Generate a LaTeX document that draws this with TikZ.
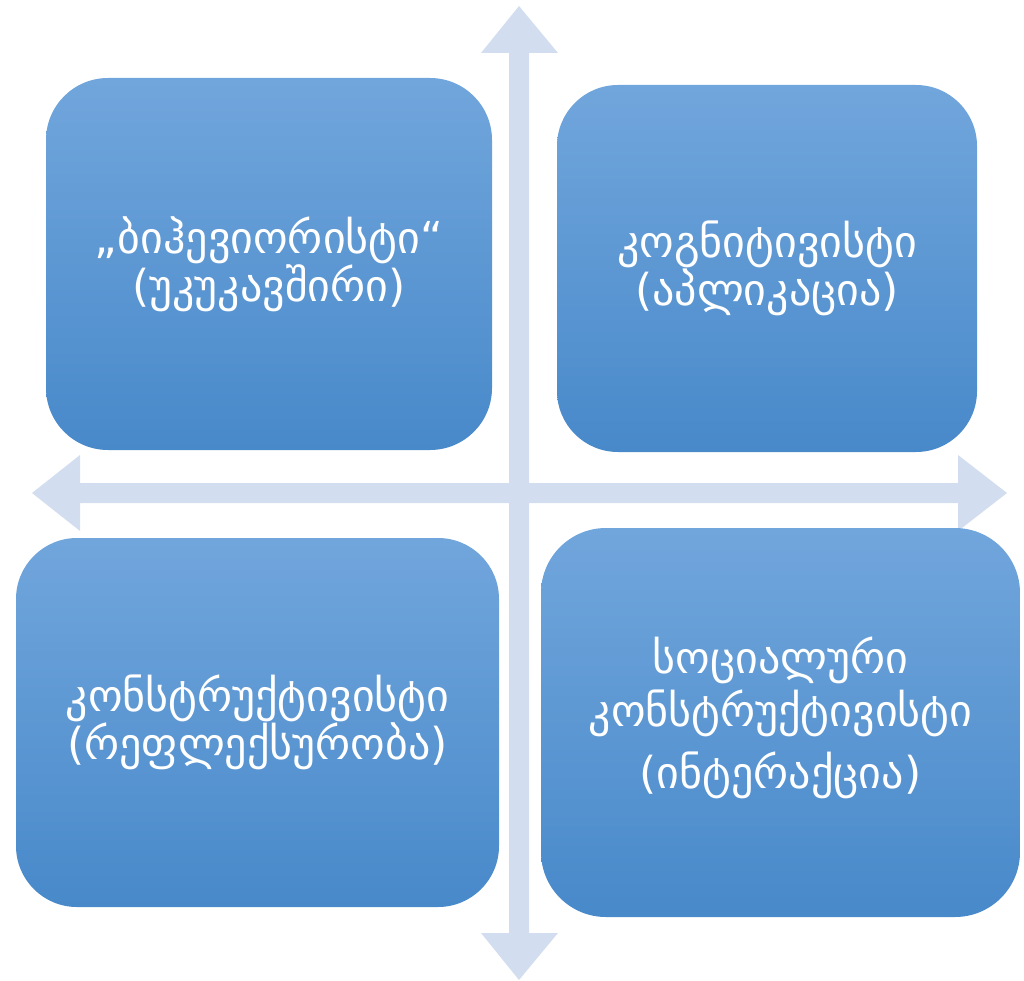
\documentclass[tikz,border=0pt]{standalone}
\usepackage{fontspec}
\newfontfamily\geo{DejaVu Sans}
\definecolor{axisblue}{HTML}{D2DEEF}
\definecolor{boxtop}{HTML}{71A6DC}
\definecolor{boxbot}{HTML}{4889CA}
\begin{document}
\begin{tikzpicture}[x=1pt,y=-1pt,
  quad/.style={draw=none,inner sep=0pt,outer sep=0pt,top color=boxtop,bottom color=boxbot,rounded corners=62pt},
  lbl/.style={text=white,align=center,font=\geo\fontsize{44}{43}\selectfont,inner sep=0pt}]
\useasboundingbox (0,0) rectangle (1024,981);
% axes
\fill[axisblue] (509,53) -- (481,53) -- (519,6) -- (558,53) -- (529,53) -- (529,933) -- (558,933) -- (519,980) -- (481,933) -- (509,933) -- cycle;
\fill[axisblue] (80,483) -- (80,455) -- (32,493) -- (80,531) -- (80,503) -- (958,503) -- (958,531) -- (1007,493) -- (958,455) -- (958,483) -- cycle;
% boxes
\node[quad,minimum width=446pt,minimum height=372pt] (b1) at (269,264) {};
\node[quad,minimum width=420pt,minimum height=367pt,rounded corners=61pt] (b2) at (767,268.5) {};
\node[quad,minimum width=483pt,minimum height=369pt,rounded corners=61pt] (b3) at (257.5,722.5) {};
\node[quad,minimum width=479pt,minimum height=389pt,rounded corners=65pt] (b4) at (780.5,722.5) {};
% labels
\node[lbl] (t1) at (b1.center) {„ბიჰევიორისტი“\\(უკუკავშირი)};
\node[lbl] (t2) at (b2.center) {კოგნიტივისტი\\(აპლიკაცია)};
\node[lbl] (t3) at (b3.center) {კონსტრუქტივისტი\\(რეფლექსურობა)};
\node[lbl] (t4) at (780.5,718) {სოციალური\\[5pt]კონსტრუქტივისტი\\[14pt](ინტერაქცია)};
\end{tikzpicture}
\end{document}
